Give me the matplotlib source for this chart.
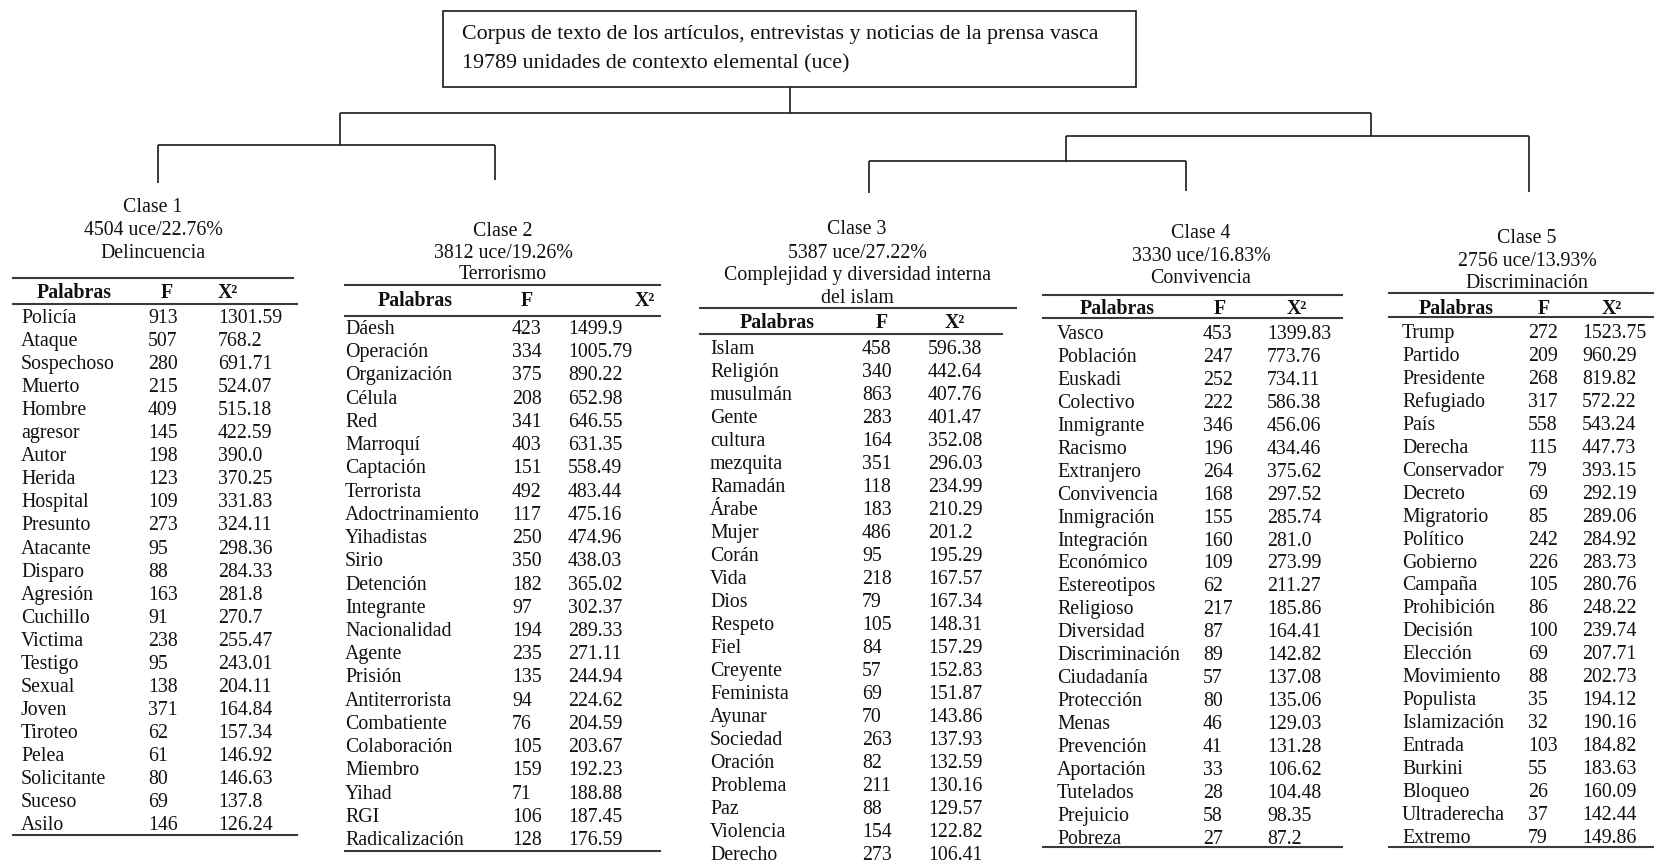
import matplotlib
matplotlib.use("Agg")
import matplotlib.pyplot as plt
from matplotlib.patches import Rectangle

plt.rcParams['font.family'] = ['Liberation Serif', 'DejaVu Serif']

# ---------------- data ----------------
corpus_lines = ["Corpus de texto de los artículos, entrevistas y noticias de la prensa vasca",
                "19789 unidades de contexto elemental (uce)"]

class_titles = [
    ["Clase 1", "4504 uce/22.76%", "Delincuencia"],
    ["Clase 2", "3812 uce/19.26%", "Terrorismo"],
    ["Clase 3", "5387 uce/27.22%", "Complejidad y diversidad interna", "del islam"],
    ["Clase 4", "3330 uce/16.83%", "Convivencia"],
    ["Clase 5", "2756 uce/13.93%", "Discriminación"],
]

headers = ["Palabras", "F", "X²"]

words1 = ["Policía", "Ataque", "Sospechoso", "Muerto", "Hombre", "agresor", "Autor", "Herida",
          "Hospital", "Presunto", "Atacante", "Disparo", "Agresión", "Cuchillo", "Victima",
          "Testigo", "Sexual", "Joven", "Tiroteo", "Pelea", "Solicitante", "Suceso", "Asilo"]
f1 = [913, 507, 280, 215, 409, 145, 198, 123, 109, 273, 95, 88, 163, 91, 238, 95, 138, 371,
      62, 61, 80, 69, 146]
chi1 = [1301.59, 768.2, 691.71, 524.07, 515.18, 422.59, 390.0, 370.25, 331.83, 324.11, 298.36,
        284.33, 281.8, 270.7, 255.47, 243.01, 204.11, 164.84, 157.34, 146.92, 146.63, 137.8, 126.24]

words2 = ["Dáesh", "Operación", "Organización", "Célula", "Red", "Marroquí", "Captación",
          "Terrorista", "Adoctrinamiento", "Yihadistas", "Sirio", "Detención", "Integrante",
          "Nacionalidad", "Agente", "Prisión", "Antiterrorista", "Combatiente", "Colaboración",
          "Miembro", "Yihad", "RGI", "Radicalización"]
f2 = [423, 334, 375, 208, 341, 403, 151, 492, 117, 250, 350, 182, 97, 194, 235, 135, 94, 76,
      105, 159, 71, 106, 128]
chi2 = [1499.9, 1005.79, 890.22, 652.98, 646.55, 631.35, 558.49, 483.44, 475.16, 474.96, 438.03,
        365.02, 302.37, 289.33, 271.11, 244.94, 224.62, 204.59, 203.67, 192.23, 188.88, 187.45,
        176.59]

words3 = ["Islam", "Religión", "musulmán", "Gente", "cultura", "mezquita", "Ramadán", "Árabe",
          "Mujer", "Corán", "Vida", "Dios", "Respeto", "Fiel", "Creyente", "Feminista", "Ayunar",
          "Sociedad", "Oración", "Problema", "Paz", "Violencia", "Derecho"]
f3 = [458, 340, 863, 283, 164, 351, 118, 183, 486, 95, 218, 79, 105, 84, 57, 69, 70, 263, 82,
      211, 88, 154, 273]
chi3 = [596.38, 442.64, 407.76, 401.47, 352.08, 296.03, 234.99, 210.29, 201.2, 195.29, 167.57,
        167.34, 148.31, 157.29, 152.83, 151.87, 143.86, 137.93, 132.59, 130.16, 129.57, 122.82,
        106.41]

words4 = ["Vasco", "Población", "Euskadi", "Colectivo", "Inmigrante", "Racismo", "Extranjero",
          "Convivencia", "Inmigración", "Integración", "Económico", "Estereotipos", "Religioso",
          "Diversidad", "Discriminación", "Ciudadanía", "Protección", "Menas", "Prevención",
          "Aportación", "Tutelados", "Prejuicio", "Pobreza"]
f4 = [453, 247, 252, 222, 346, 196, 264, 168, 155, 160, 109, 62, 217, 87, 89, 57, 80, 46, 41,
      33, 28, 58, 27]
chi4 = [1399.83, 773.76, 734.11, 586.38, 456.06, 434.46, 375.62, 297.52, 285.74, 281.0, 273.99,
        211.27, 185.86, 164.41, 142.82, 137.08, 135.06, 129.03, 131.28, 106.62, 104.48, 98.35,
        87.2]

words5 = ["Trump", "Partido", "Presidente", "Refugiado", "País", "Derecha", "Conservador",
          "Decreto", "Migratorio", "Político", "Gobierno", "Campaña", "Prohibición", "Decisión",
          "Elección", "Movimiento", "Populista", "Islamización", "Entrada", "Burkini", "Bloqueo",
          "Ultraderecha", "Extremo"]
f5 = [272, 209, 268, 317, 558, 115, 79, 69, 85, 242, 226, 105, 86, 100, 69, 88, 35, 32, 103,
      55, 26, 37, 79]
chi5 = [1523.75, 960.29, 819.82, 572.22, 543.24, 447.73, 393.15, 292.19, 289.06, 284.92, 283.73,
        280.76, 248.22, 239.74, 207.71, 202.73, 194.12, 190.16, 184.82, 183.63, 160.09, 142.44,
        149.86]

tables = [(words1, f1, chi1), (words2, f2, chi2), (words3, f3, chi3),
          (words4, f4, chi4), (words5, f5, chi5)]

# ---------------- layout (pixel coordinates) ----------------
W, H = 1654, 866
DY = 1.5  # visual centring correction for text
layouts = [
    dict(tx=153, ty=[206, 229, 252], top=278, top_x=(13, 293), hy=292, under=304, under_x=(13, 297),
         hx=[(74, 'center'), (167, 'center'), (218, 'left')], first=317, step=23.05,
         cols=(21, 148, 218), bottom=835, bottom_x=(13, 297)),
    dict(tx=503, ty=[230, 252, 273], top=285, top_x=(345, 660), hy=300, under=316, under_x=(345, 660),
         hx=[(415, 'center'), (527, 'center'), (655, 'right')], first=328, step=23.23,
         cols=(345, 512, 568), bottom=851, bottom_x=(345, 660)),
    dict(tx=857, ty=[228, 252, 274, 297], top=308, top_x=(700, 1016), hy=322, under=334,
         under_x=(700, 1002), hx=[(777, 'center'), (882, 'center'), (955, 'center')], first=348,
         step=22.98, cols=(710, 862, 928), bottom=None, bottom_x=None),
    dict(tx=1201, ty=[232, 255, 277], top=295, top_x=(1043, 1342), hy=308, under=318,
         under_x=(1043, 1342), hx=[(1117, 'center'), (1220, 'center'), (1297, 'center')], first=333,
         step=22.95, cols=(1057, 1203, 1267), bottom=847, bottom_x=(1043, 1342)),
    dict(tx=1527, ty=[237, 260, 282], top=293, top_x=(1389, 1654), hy=307, under=317,
         under_x=(1389, 1654), hx=[(1456, 'center'), (1544, 'center'), (1612, 'center')], first=332,
         step=22.95, cols=(1402, 1528, 1582), bottom=847, bottom_x=(1389, 1654)),
]

tree_segments = [
    ((790, 87), (790, 113)),
    ((340, 113), (1371, 113)),
    ((340, 113), (340, 145)),
    ((1371, 113), (1371, 136)),
    ((158, 145), (495, 145)),
    ((158, 145), (158, 183)),
    ((495, 145), (495, 180)),
    ((1066, 136), (1529, 136)),
    ((1529, 136), (1529, 192)),
    ((1066, 136), (1066, 162)),
    ((869, 161), (1186, 161)),
    ((869, 161), (869, 193)),
    ((1186, 161), (1186, 191)),
]

FS_BOX = 15.8
FS_TITLE = 14.3
FS_TAB = 14.3
TREE_C = '#1a1a1a'
RULE_C = '#3a3a3a'
TXT_C = '#111111'

fig = plt.figure(figsize=(W / 100, H / 100), dpi=100)
ax = fig.add_axes([0, 0, 1, 1])
ax.set_xlim(0, W)
ax.set_ylim(H, 0)
ax.axis('off')

# corpus box
ax.add_patch(Rectangle((443, 11), 1136 - 443, 87 - 11, fill=False, lw=1.2, ec=TREE_C))
for txt, y in zip(corpus_lines, [33, 62]):
    ax.text(462, y + DY, txt, fontsize=FS_BOX, ha='left', va='center', color=TXT_C)

# dendrogram
for (x0, y0), (x1, y1) in tree_segments:
    ax.plot([x0, x1], [y0, y1], color=TREE_C, lw=1.2, solid_capstyle='butt')

# class blocks
for (words, fvals, chis), lay, titles in zip(tables, layouts, class_titles):
    for t, y in zip(titles, lay['ty']):
        ax.text(lay['tx'], y + DY, t, fontsize=FS_TITLE, ha='center', va='center', color=TXT_C)
    ax.plot(lay['top_x'], [lay['top']] * 2, color=RULE_C, lw=1.5)
    ax.plot(lay['under_x'], [lay['under']] * 2, color=RULE_C, lw=1.5)
    if lay['bottom'] is not None:
        ax.plot(lay['bottom_x'], [lay['bottom']] * 2, color=RULE_C, lw=1.5)
    for h, (hx, ha) in zip(headers, lay['hx']):
        ax.text(hx, lay['hy'] + DY, h, fontsize=FS_TAB, fontweight='bold', ha=ha, va='center',
                color=TXT_C)
    for i, (w, fv, cv) in enumerate(zip(words, fvals, chis)):
        y = lay['first'] + i * lay['step'] + DY
        ax.text(lay['cols'][0], y, w, fontsize=FS_TAB, ha='left', va='center', color=TXT_C)
        ax.text(lay['cols'][1], y, str(fv), fontsize=FS_TAB, ha='left', va='center', color=TXT_C)
        ax.text(lay['cols'][2], y, f"{cv}", fontsize=FS_TAB, ha='left', va='center', color=TXT_C)

fig.savefig("out.png", dpi=100, facecolor='white')
